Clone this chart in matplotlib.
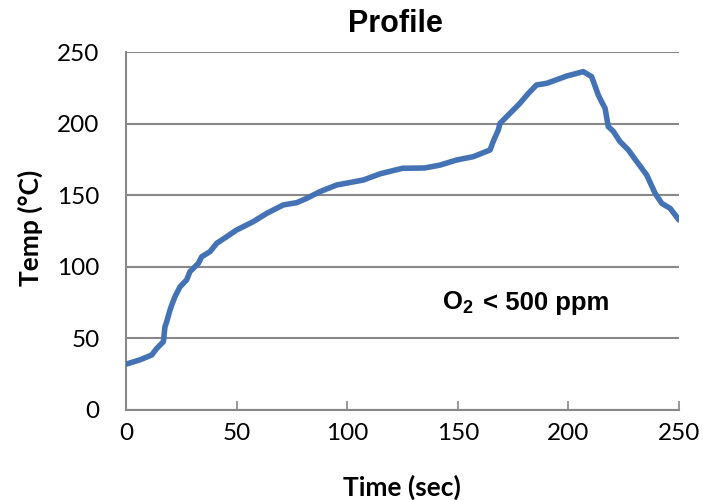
import matplotlib
matplotlib.use("Agg")
import matplotlib.pyplot as plt

times = [0, 6.3, 11.6, 13.9, 16.9, 17.6, 18.4, 19.9, 20.6, 22.1, 24.4, 27.4, 28.9, 32.7, 34.2,
         38, 41, 45.5, 50, 57.5, 63.6, 71.1, 77.2, 81.7, 87.7, 95.2, 100, 107.3, 115, 125,
         135, 141.9, 149.5, 157, 164.6, 166, 168.3, 169.1, 173.6, 178.1, 181.9, 185.6, 190.2,
         199.2, 206.7, 210.5, 213.5, 215, 216.6, 218, 220.3, 223.3, 227.1, 230.9, 235.4,
         239.2, 242.2, 246, 250]
temps = [32, 35, 38.4, 43, 47.7, 58, 61.7, 69.8, 73, 79, 86, 90.8, 96.6, 102.4, 107,
         110.6, 116.4, 121, 125.7, 131.5, 137.3, 143.2, 144.8, 147.8, 152.5, 157.1, 158.5, 160.6, 165, 168.8,
         169, 171, 174.6, 176.9, 181.6, 187.5, 195.5, 200.2, 207.2, 214.2, 221.1, 227, 228.1,
         233.2, 236.3, 232.8, 220, 215.3, 210.6, 198, 194.6, 187.5, 181.6, 173.5, 164.1,
         151.3, 144.3, 140.8, 132.7]
xticks = [0, 50, 100, 150, 200, 250]
yticks = [0, 50, 100, 150, 200, 250]

plt.rcParams['mathtext.fontset'] = 'custom'
plt.rcParams['mathtext.bf'] = 'Liberation Sans:bold'
plt.rcParams['mathtext.rm'] = 'Liberation Sans'

fig = plt.figure(figsize=(7.03, 5.0), dpi=100)
ax = fig.add_axes([126/703, 90/500, 553/703, 358/500])

grey = '#888888'
ax.plot(times, temps, color='#4473B5', lw=4.0, solid_capstyle='round', solid_joinstyle='round', zorder=3)

ax.set_xlim(0, 250)
ax.set_ylim(0, 250)
ax.set_xticks(xticks)
ax.set_yticks(yticks)
ax.yaxis.grid(True, color=grey, lw=1.5)
ax.set_axisbelow(True)
for s in ['top', 'right']:
    ax.spines[s].set_visible(False)
for s in ['left', 'bottom']:
    ax.spines[s].set_color(grey)
    ax.spines[s].set_linewidth(1.5)
ax.tick_params(axis='x', direction='in', length=6.5, width=1.2, color=grey, pad=9,
               labelsize=17.5)
ax.tick_params(axis='y', direction='in', length=0, pad=19, labelsize=17.5)
for lab in ax.get_xticklabels() + ax.get_yticklabels():
    lab.set_family('Lato')

fig.text(395/703, 1 - 24/500, 'Profile', ha='center', va='center', fontsize=22,
         fontweight='bold', family='Liberation Sans')
fig.text(402/703, 1 - 487/500, 'Time (sec)', ha='center', va='center', fontsize=19,
         fontweight='bold', family='Lato')
fig.text(30/703, 1 - 228/500, 'Temp (°C)', ha='center', va='center', fontsize=19,
         fontweight='bold', family='Lato', rotation=90)
ax.text(142.7, 75, r'$\mathbf{O_2}$', fontsize=18.5, fontweight='bold',
        family='Liberation Sans', ha='left', va='center')
ax.text(161.2, 75, '< 500 ppm', fontsize=18.5, fontweight='bold',
        family='Liberation Sans', ha='left', va='center')

fig.savefig('out.png', dpi=100)
